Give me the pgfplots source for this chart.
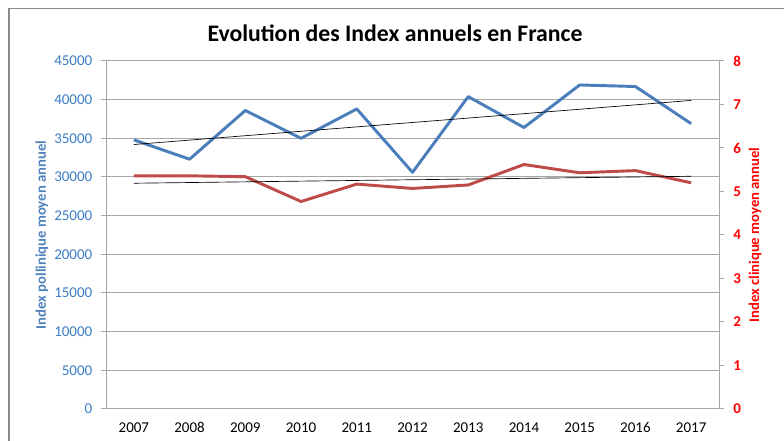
\documentclass[border=0pt]{standalone}
\usepackage{pgfplots}
\pgfplotsset{compat=1.18}
\usepackage{fontspec}
\setmainfont{Carlito}
\definecolor{serblue}{HTML}{4A7EBB}
\definecolor{serred}{HTML}{BE4B48}
\definecolor{tickblue}{HTML}{3B7DC8}
\definecolor{labblue}{HTML}{4F81BD}
\definecolor{gridgray}{HTML}{A6A6A6}
\definecolor{framegray}{HTML}{8A8A8A}
\begin{document}
\begin{tikzpicture}
\path[use as bounding box] (0,0) rectangle (588pt,330.75pt);
\draw[framegray, line width=1.1pt] (6.75pt,0pt) -- (6.75pt,324.4pt) -- (588pt,324.4pt);
\node[font=\fontsize{17.8}{20}\selectfont\bfseries] at (296.25pt,306pt) {Evolution des Index annuels en France};
\pgfplotsset{
  common/.style={
    scale only axis, width=459.75pt, height=261pt,
    at={(79.5pt,24pt)}, anchor=south west,
    xmin=-0.5, xmax=10.5,
    /pgf/number format/assume math mode=true,
    tick align=outside,
    major tick length=3.75pt,
    every tick/.style={gridgray, line width=0.75pt},
    axis line style={gridgray, line width=0.75pt},
  }
}
\begin{axis}[common,
  axis x line*=bottom, axis y line*=left,
  ymin=0, ymax=45000, ytick={0,5000,...,45000},
  scaled y ticks=false,
  yticklabel style={/pgf/number format/fixed, /pgf/number format/1000 sep={}},
  yticklabel style={font=\fontsize{11.25}{13}\selectfont, text=tickblue, xshift=-3pt},
  ymajorgrids, grid style={gridgray, line width=0.75pt},
  xtick={0,...,10},
  xticklabels={2007,2008,2009,2010,2011,2012,2013,2014,2015,2016,2017},
  xticklabel style={font=\fontsize{11.25}{13}\selectfont, text=black, yshift=-3pt},
  xtick style={draw=none},
  minor xtick={-0.5,0.5,...,10.5},
  minor tick length=3.75pt,
  every axis y label/.style={at={(axis description cs:0,0.5)}, anchor=center, rotate=90, yshift=48pt,
    font=\fontsize{11}{13}\selectfont\bfseries, text=labblue},
  ylabel={Index pollinique moyen annuel},
]
\addplot[serblue, line width=2.2pt, line join=round] coordinates {
 (0,34800) (1,32300) (2,38600) (3,35000) (4,38800) (5,30600) (6,40400) (7,36400) (8,41900) (9,41700) (10,36900)};
\addplot[black, line width=0.5pt] coordinates {(0,34200) (10,39900)};
\end{axis}
\begin{axis}[common,
  axis x line=none, axis y line*=right,
  ymin=0, ymax=8, ytick={0,...,8},
  yticklabel style={font=\fontsize{11.25}{13}\selectfont\bfseries, text=red, xshift=3.5pt},
  every axis y label/.style={at={(axis description cs:1,0.5)}, anchor=center, rotate=90, yshift=-27pt,
    font=\fontsize{11}{13}\selectfont\bfseries, text=red},
  ylabel={Index clinique moyen annuel},
]
\addplot[serred, line width=2.2pt, line join=round] coordinates {
 (0,5.36) (1,5.36) (2,5.34) (3,4.77) (4,5.17) (5,5.07) (6,5.15) (7,5.62) (8,5.43) (9,5.48) (10,5.20)};
\addplot[black, line width=0.5pt] coordinates {(0,5.19) (10,5.35)};
\end{axis}
\end{tikzpicture}
\end{document}
